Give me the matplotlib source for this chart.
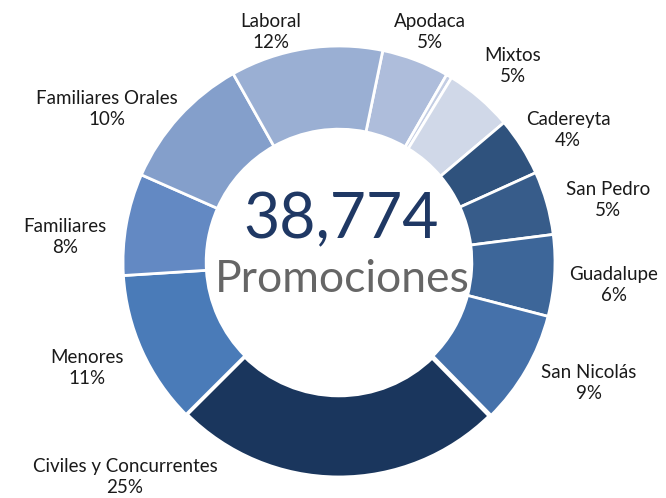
import matplotlib
matplotlib.use("Agg")
from matplotlib import pyplot as plt

# data, clockwise from the top
names = ["Apodaca", "", "Mixtos", "Cadereyta", "San Pedro", "Guadalupe",
         "San Nicolás", "Civiles y Concurrentes", "Menores", "Familiares",
         "Familiares Orales", "Laboral"]
counts = [1960, 164, 1980, 1700, 1840, 2360, 3330, 9650, 4450, 2950, 3970, 4420]
pct_labels = ["5%", "", "5%", "4%", "5%", "6%", "9%", "25%", "11%", "8%", "10%", "12%"]
colors = ["#AEBDDB", "#C3CDE3", "#D0D8E8", "#2F527D", "#375C8A", "#3D6699",
          "#4571AA", "#1A365D", "#4A7BB8", "#6389C3", "#849FCB", "#9AAFD3"]
total_txt = "38,774"

# label centres in pixels (x, y from top)
label_px = [(430, 32), None, (513, 66), (568, 130), (608, 200), (614, 285),
            (589, 383), (125, 477), (87, 368), (65, 237), (107, 109), (271, 32)]

W, H = 666, 498
cx, cy, R = 339, 262, 216

fig = plt.figure(figsize=(W / 100, H / 100), dpi=100)
ax = fig.add_axes([0, 0, 1, 1])

wedges, _ = ax.pie(counts, colors=colors, startangle=78.3, counterclock=False,
                   radius=1.0,
                   wedgeprops=dict(width=0.385, edgecolor="white", linewidth=2))
wedges[7].set_linewidth(3.5)

ax.set_xlim(-cx / R, (W - cx) / R)
ax.set_ylim((cy - H) / R, cy / R)


def px(x, y):
    return (x - cx) / R, (cy - y) / R


for name, p, pos in zip(names, pct_labels, label_px):
    if pos is None:
        continue
    x, y = px(*pos)
    ax.text(x, y, name + "\n" + p, ha="center", va="center", fontsize=13.5,
            family="Lato", color="#1a1a1a", linespacing=1.3)

x, y = px(341, 220)
ax.text(x, y, total_txt, ha="center", va="center", fontsize=45,
        family="Lato", color="#1F3864")
x, y = px(342, 280)
ax.text(x, y, "Promociones", ha="center", va="center", fontsize=32,
        family="Lato", color="#666666")

fig.savefig("out.png", dpi=100)
